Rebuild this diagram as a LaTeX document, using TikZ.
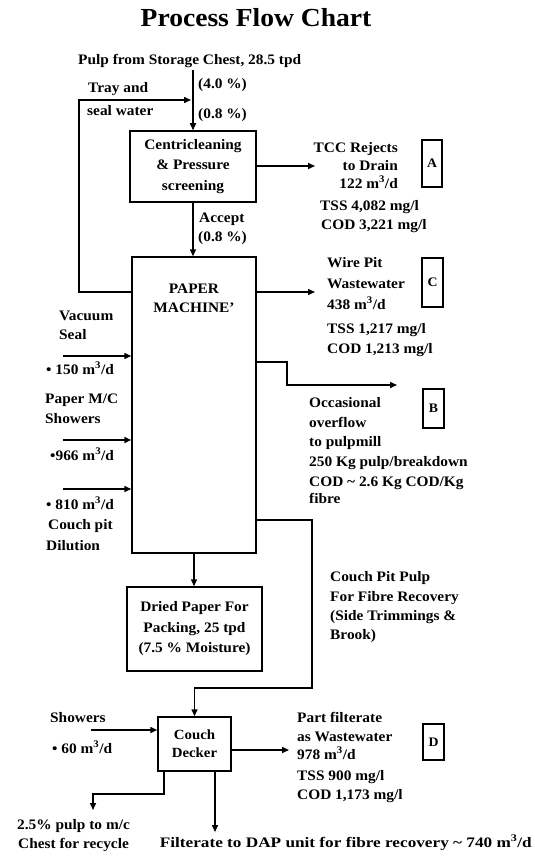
\documentclass[tikz,border=0pt]{standalone}
\usepackage{fontspec}
\setmainfont[FakeStretch=1.06]{Liberation Serif}
\usetikzlibrary{arrows.meta}
\tikzset{
  lb/.style={font=\bfseries\fontsize{14.5}{19}\selectfont, inner sep=0pt, anchor=base west},
  lbr/.style={lb, anchor=base east},
  lbc/.style={lb, anchor=base},
  box/.style={draw, line width=1.5pt, inner sep=0pt, align=center, font=\bfseries\fontsize{14.5}{20.5}\selectfont},
  tag/.style={draw, line width=1.3pt, inner sep=0pt, font=\bfseries\fontsize{13}{13}\selectfont},
  flow/.style={line width=1.5pt, -{Triangle[length=7pt,width=6pt]}},
  plain/.style={line width=1.5pt}
}
\newcommand{\mcube}{m\textsuperscript{3}/d}
\begin{document}
\begin{tikzpicture}[x=1pt,y=-1pt]
\useasboundingbox (0,0) rectangle (535,856);

% title
\node[font=\bfseries\fontsize{26}{26}\selectfont, inner sep=0pt, anchor=base] (title) at (256,27) {Process Flow Chart};

% boxes
\node[box, minimum width=126pt, minimum height=71pt] (cp) at (193,166.5) {Centricleaning\\\& Pressure\\screening};
\node[box, minimum width=124pt, minimum height=296pt] (pm) at (194,405) {};
\node[lbc] (pm1) at (194,293) {PAPER};
\node[lbc] (pm2) at (194,312) {MACHINE’};
\node[box, minimum width=135pt, minimum height=84pt] (dp) at (194.5,629) {Dried Paper For\\Packing, 25 tpd\\(7.5 \% Moisture)};
\node[box, minimum width=73pt, minimum height=54pt, font=\bfseries\fontsize{14}{18}\selectfont] (cd) at (194.5,744) {Couch\\Decker};

% tags
\node[tag, minimum width=20pt, minimum height=47pt] (tA) at (432,163.5) {A};
\node[tag, minimum width=21pt, minimum height=49pt] (tC) at (432.5,282.5) {C};
\node[tag, minimum width=21pt, minimum height=39pt] (tB) at (433.5,408.5) {B};
\node[tag, minimum width=21pt, minimum height=36pt] (tD) at (433.5,742) {D};

% feed
\node[lb] (pulp) at (78,65) {Pulp from Storage Chest, 28.5 tpd};
\node[lb] (c40) at (198,89) {(4.0 \%)};
\node[lb] (c08) at (198,118) {(0.8 \%)};
\node[lb] (tray1) at (88,93) {Tray and};
\node[lb] (tray2) at (87,116) {seal water};
\coordinate (src) at (193,70);
\draw[flow] (src) -- (cp.north -| src);
\coordinate (tr1) at (79,292);
\coordinate (tr2) at (79,100);
\coordinate (tr3) at (191,100);
\draw[flow] (pm.west |- tr1) -- (tr1) -- (tr2) -- (tr3);

% accept
\draw[flow] (cp.south -| src) -- (pm.north -| src);
\node[lb] (acc1) at (199,222) {Accept};
\node[lb] (acc2) at (198,241) {(0.8 \%)};

% TCC rejects
\coordinate (tccE) at (315,166);
\draw[flow] (cp.east |- tccE) -- (tccE);
\node[lbr] (a1) at (398,152) {TCC Rejects};
\node[lbr] (a2) at (398,170) {to Drain};
\node[lbr] (a3) at (398,188) {122 \mcube};
\node[lb] (a4) at (320,210) {TSS 4,082 mg/l};
\node[lb] (a5) at (321,229) {COD 3,221 mg/l};

% wire pit
\coordinate (wpE) at (315,292);
\draw[flow] (pm.east |- wpE) -- (wpE);
\node[lb] (c1) at (327,267) {Wire Pit};
\node[lb] (c2) at (327,288) {Wastewater};
\node[lb] (c3) at (327,309) {438 \mcube};
\node[lb] (c4) at (327,333) {TSS 1,217 mg/l};
\node[lb] (c5) at (327,353) {COD 1,213 mg/l};

% overflow
\coordinate (ov1) at (287,362);
\coordinate (ov2) at (287,385);
\coordinate (ov3) at (397,385);
\draw[flow] (pm.east |- ov1) -- (ov1) -- (ov2) -- (ov3);
\node[lb] (b1) at (309,407) {Occasional};
\node[lb] (b2) at (309,427) {overflow};
\node[lb] (b3) at (309,446) {to pulpmill};
\node[lb] (b4) at (309,466) {250 Kg pulp/breakdown};
\node[lb] (b5) at (309,486) {COD \textasciitilde{} 2.6 Kg COD/Kg};
\node[lb] (b6) at (309,503) {fibre};

% left inputs
\node[lb] (v1) at (59,320) {Vacuum};
\node[lb] (v2) at (59,339) {Seal};
\coordinate (vs) at (63,356);
\draw[flow] (vs) -- (vs -| pm.west);
\node[lb] (v3) at (46,374) {• 150 \mcube};
\node[lb] (s1) at (45,403) {Paper M/C};
\node[lb] (s2) at (45,423) {Showers};
\coordinate (shin) at (63,440);
\draw[flow] (shin) -- (shin -| pm.west);
\node[lb] (s3) at (50,460) {•966 \mcube};
\coordinate (cpin) at (63,489);
\draw[flow] (cpin) -- (cpin -| pm.west);
\node[lb] (d1) at (46,509) {• 810 \mcube};
\node[lb] (d2) at (48,529) {Couch pit};
\node[lb] (d3) at (46,550) {Dilution};

% paper machine to dried paper
\draw[flow] (pm.south) -- (pm.south |- dp.north);

% couch pit pulp
\coordinate (cq1) at (312,520);
\coordinate (cq2) at (312,688);
\draw[flow] (pm.east |- cq1) -- (cq1) -- (cq2) -- (cq2 -| cd.north) -- (cd.north);
\node[lb] (e1) at (330,581) {Couch Pit Pulp};
\node[lb] (e2) at (330,601) {For Fibre Recovery};
\node[lb] (e3) at (330,620) {(Side Trimmings \&};
\node[lb] (e4) at (330,639) {Brook)};

% couch decker inputs/outputs
\node[lb] (w1) at (50,722) {Showers};
\coordinate (shw) at (91,730);
\draw[flow] (shw) -- (shw -| cd.west);
\node[lb] (w2) at (52,753) {• 60 \mcube};

\coordinate (pf) at (289,750);
\draw[flow] (pf -| cd.east) -- (pf);
\node[lb] (f1) at (297,722) {Part filterate};
\node[lb] (f2) at (297,741) {as Wastewater};
\node[lb] (f3) at (297,759) {978 \mcube};
\node[lb] (f4) at (297,780) {TSS 900 mg/l};
\node[lb] (f5) at (297,799) {COD 1,173 mg/l};

\coordinate (r1) at (164,794);
\coordinate (r2) at (93,794);
\coordinate (r3) at (93,810);
\draw[flow] (r1 |- cd.south) -- (r1) -- (r2) -- (r3);
\node[lb] (g1) at (17,829) {2.5\% pulp to m/c};
\node[lb] (g2) at (18,848) {Chest for recycle};

\coordinate (fl) at (215,832);
\draw[flow] (fl |- cd.south) -- (fl);
\node[lbr] (h1) at (532,847) {\scalebox{1.12}[1]{Filterate to DAP unit for fibre recovery \textasciitilde{} 740 \mcube}};
\end{tikzpicture}
\end{document}
